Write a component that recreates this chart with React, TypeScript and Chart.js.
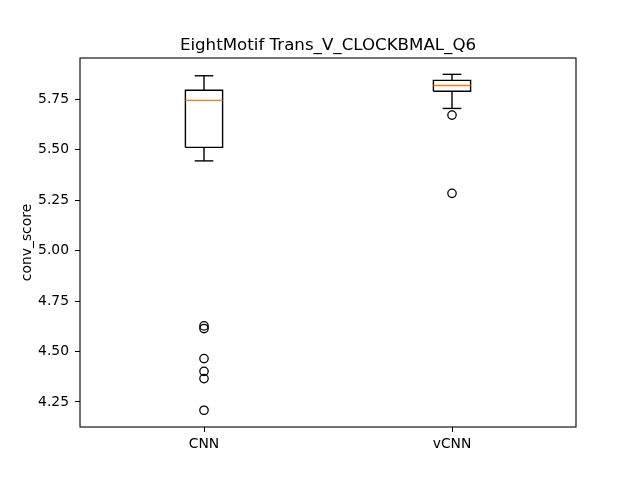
import React, { useEffect, useRef } from "react";
import { Chart, registerables } from "chart.js";
Chart.register(...registerables);

const titleText = "EightMotif Trans_V_CLOCKBMAL_Q6";
const yLabel = "conv_score";
const categories = ["CNN", "vCNN"];
const whiskerLow = [5.445, 5.705];
const q1 = [5.512, 5.79];
const median = [5.745, 5.819];
const q3 = [5.795, 5.844];
const whiskerHigh = [5.867, 5.874];
const outliersCNN = [4.627, 4.614, 4.465, 4.402, 4.366, 4.209];
const outliersVCNN = [5.672, 5.284];
const outliers = [outliersCNN, outliersVCNN];
const yTicks = [4.25, 4.5, 4.75, 5.0, 5.25, 5.5, 5.75];
const yMin = 4.126;
const yMax = 5.955;

const BOX_HALF = 0.075;
const CAP_HALF = 0.0375;
const FONT = "'DejaVu Sans', sans-serif";

const framePlugin = {
  id: "frame",
  afterDatasetsDraw(chart: any) {
    const { ctx, chartArea } = chart;
    ctx.save();
    ctx.strokeStyle = "#000";
    ctx.lineWidth = 1.1;
    ctx.strokeRect(chartArea.left, chartArea.top, chartArea.right - chartArea.left, chartArea.bottom - chartArea.top);
    ctx.restore();
  },
  afterDraw(chart: any) {
    const { ctx, chartArea } = chart;
    ctx.save();
    ctx.fillStyle = "#000";
    ctx.font = `16.67px ${FONT}`;
    ctx.textAlign = "center";
    ctx.textBaseline = "alphabetic";
    ctx.fillText(titleText, (chartArea.left + chartArea.right) / 2, chartArea.top - 8);
    ctx.restore();
  },
};

function line(points: { x: number; y: number }[], color: string) {
  return {
    type: "scatter" as const,
    data: points,
    showLine: true,
    borderColor: color,
    backgroundColor: color,
    borderWidth: 1.4,
    pointRadius: 0,
    pointHoverRadius: 0,
  };
}

export default function App() {
  const ref = useRef<HTMLCanvasElement | null>(null);
  useEffect(() => {
    if (!ref.current) return;
    const datasets: any[] = [];
    categories.forEach((_, i) => {
      const x = i + 1;
      datasets.push(line([{ x: x - BOX_HALF, y: median[i] }, { x: x + BOX_HALF, y: median[i] }], "#ff7f0e"));
    });
    categories.forEach((_, i) => {
      const x = i + 1;
      datasets.push(
        line(
          [
            { x: x - BOX_HALF, y: q1[i] },
            { x: x + BOX_HALF, y: q1[i] },
            { x: x + BOX_HALF, y: q3[i] },
            { x: x - BOX_HALF, y: q3[i] },
            { x: x - BOX_HALF, y: q1[i] },
          ],
          "#000"
        )
      );
      datasets.push(line([{ x, y: q1[i] }, { x, y: whiskerLow[i] }], "#000"));
      datasets.push(line([{ x, y: q3[i] }, { x, y: whiskerHigh[i] }], "#000"));
      datasets.push(line([{ x: x - CAP_HALF, y: whiskerLow[i] }, { x: x + CAP_HALF, y: whiskerLow[i] }], "#000"));
      datasets.push(line([{ x: x - CAP_HALF, y: whiskerHigh[i] }, { x: x + CAP_HALF, y: whiskerHigh[i] }], "#000"));
      datasets.push({
        type: "scatter",
        data: outliers[i].map((v) => ({ x, y: v })),
        showLine: false,
        pointRadius: 4.2,
        pointBorderWidth: 1.3,
        pointBorderColor: "#000",
        pointBackgroundColor: "rgba(0,0,0,0)",
        pointStyle: "circle",
      });
    });

    const chart = new Chart(ref.current, {
      type: "scatter",
      data: { datasets },
      plugins: [framePlugin],
      options: {
        animation: false,
        responsive: false,
        layout: { padding: { left: 0, right: 64, top: 58, bottom: 0 } },
        plugins: {
          legend: { display: false },
          tooltip: { enabled: false },
          title: { display: false },
        },
        scales: {
          x: {
            type: "linear",
            min: 0.5,
            max: 2.5,
            border: { display: false },
            grid: { display: true, drawOnChartArea: false, drawTicks: true, tickLength: 5, color: "#000", lineWidth: 1 },
            afterBuildTicks(scale: any) {
              scale.ticks = categories.map((_, i) => ({ value: i + 1 }));
            },
            afterFit(scale: any) {
              scale.height = 53;
            },
            ticks: {
              color: "#000",
              padding: 4,
              font: { family: FONT, size: 13.89 },
              callback: (v: any) => categories[Math.round(Number(v)) - 1] ?? "",
            },
          },
          y: {
            type: "linear",
            min: yMin,
            max: yMax,
            border: { display: false },
            grid: { display: true, drawOnChartArea: false, drawTicks: true, tickLength: 5, color: "#000", lineWidth: 1 },
            afterBuildTicks(scale: any) {
              scale.ticks = yTicks.map((v) => ({ value: v }));
            },
            afterFit(scale: any) {
              scale.width = 80;
            },
            title: {
              display: true,
              text: yLabel,
              color: "#000",
              font: { family: FONT, size: 13.89, lineHeight: 1.2 },
              padding: { top: 19, bottom: 0 },
            },
            ticks: {
              color: "#000",
              padding: 6,
              font: { family: FONT, size: 13.89 },
              callback: (v: any) => Number(v).toFixed(2),
            },
          },
        },
      } as any,
    });
    return () => chart.destroy();
  }, []);
  return (
    <div style={{ position: "absolute", left: 0, top: 0, width: 640, height: 480, background: "#fff" }}>
      <canvas ref={ref} width={640} height={480} style={{ display: "block" }} />
    </div>
  );
}
